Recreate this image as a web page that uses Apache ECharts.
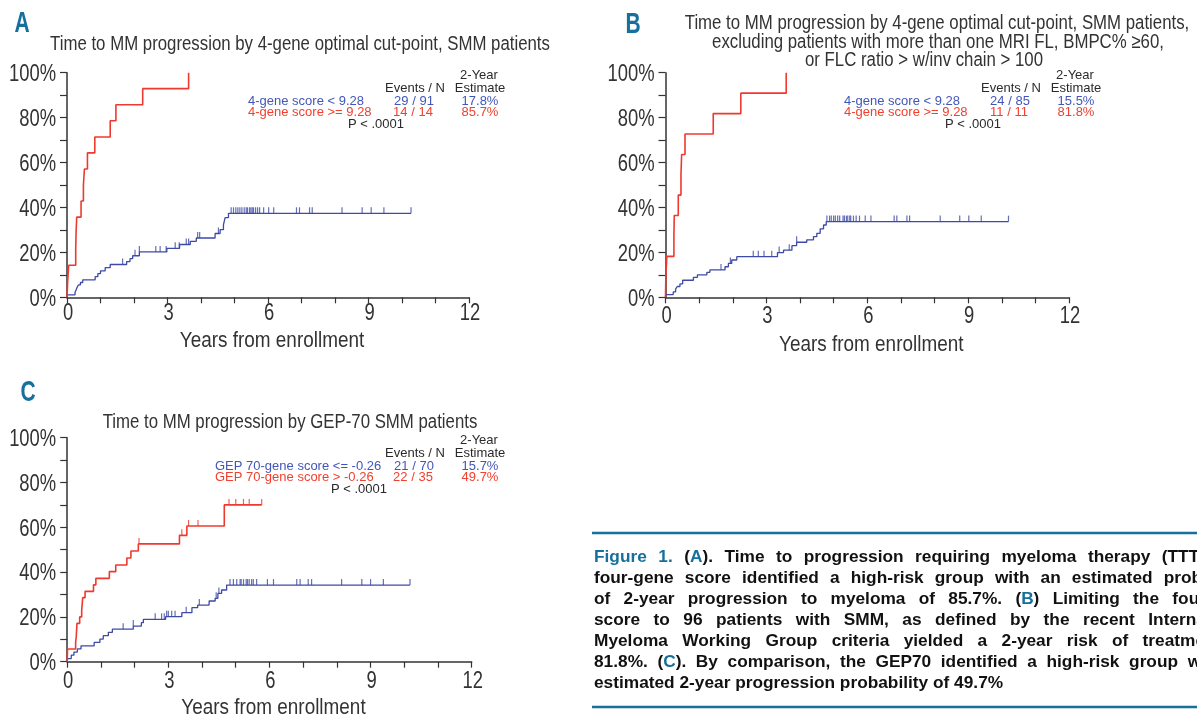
<!DOCTYPE html>
<html><head><meta charset="utf-8">
<script src="https://cdn.jsdelivr.net/npm/echarts@6/dist/echarts.min.js"></script>
<style>html,body{margin:0;padding:0;background:#fff}#c{width:1197px;height:717px}</style>
</head><body><div id="c"></div>
<script>
// ---------- DATA ----------
const xTickLabels = [0, 3, 6, 9, 12];
const yTickLabels = [0, 20, 40, 60, 80, 100];

// Panel A: 4-gene score
const aBlueT = [0, 0.01, 0.24, 0.27, 0.30, 0.34, 0.40, 0.47, 0.84, 0.92, 1.00, 1.14, 1.29, 1.78, 1.88, 1.96, 2.16, 2.98, 3.36, 3.68, 3.86, 4.42, 4.57, 4.67, 4.72, 4.82, 10.27];
const aBlueP = [0, 1.1, 2.2, 3.3, 4.4, 5.5, 6.6, 7.8, 9.2, 10.5, 11.8, 13.2, 14.6, 15.9, 17.2, 18.5, 20.2, 21.8, 23.5, 24.9, 26.4, 28.4, 30.1, 32.2, 35.5, 37.4, 37.4];
const aBlueCens = [1.66, 2.03, 2.16, 2.65, 2.78, 2.96, 3.23, 3.35, 3.56, 3.63, 3.90, 3.96, 4.52, 4.90, 4.97, 5.04, 5.10, 5.16, 5.22, 5.29, 5.35, 5.39, 5.45, 5.49, 5.53, 5.57, 5.63, 5.69, 5.75, 5.87, 6.02, 6.17, 6.85, 6.94, 7.24, 7.32, 8.21, 8.81, 9.08, 9.46, 10.27];
const aRedT = [0, 0.02, 0.05, 0.26, 0.27, 0.29, 0.42, 0.49, 0.52, 0.61, 0.83, 1.29, 1.46, 2.26, 3.63];
const aRedP = [0, 7.1, 14.3, 21.4, 28.6, 35.7, 42.9, 50.0, 57.1, 64.3, 71.4, 78.6, 85.7, 92.9, 100];

// Panel B: 4-gene score, restricted SMM
const bBlueT = [0, 0.01, 0.23, 0.30, 0.35, 0.43, 0.51, 0.83, 0.95, 1.23, 1.32, 1.77, 1.87, 1.97, 2.12, 3.33, 3.51, 3.76, 3.90, 4.20, 4.40, 4.50, 4.60, 4.70, 4.78, 10.20];
const bBlueP = [0, 1.2, 2.4, 3.6, 4.8, 6.0, 7.6, 8.9, 10.0, 11.1, 12.2, 13.6, 15.1, 16.6, 18.1, 19.9, 21.0, 23.0, 24.5, 25.6, 27.0, 28.5, 30.5, 32.2, 33.7, 33.7];
const bBlueCens = [1.65, 1.93, 2.61, 2.76, 2.93, 3.16, 3.38, 3.68, 3.90, 4.80, 4.88, 4.93, 5.00, 5.05, 5.12, 5.18, 5.28, 5.32, 5.38, 5.42, 5.48, 5.51, 5.59, 5.67, 5.77, 5.94, 6.11, 6.80, 6.88, 7.18, 7.26, 8.17, 8.75, 9.02, 9.39, 10.20];
const bRedT = [0, 0.01, 0.04, 0.25, 0.26, 0.38, 0.46, 0.48, 0.58, 1.42, 2.24, 3.59];
const bRedP = [0, 9.1, 18.2, 27.3, 36.4, 45.5, 54.5, 63.6, 72.7, 81.8, 90.9, 100];

// Panel C: GEP-70
const cBlueT = [0, 0.01, 0.12, 0.20, 0.30, 0.41, 0.80, 0.97, 1.07, 1.22, 1.34, 1.96, 2.20, 2.26, 2.92, 3.40, 3.70, 3.87, 4.21, 4.39, 4.47, 4.58, 4.73, 10.17];
const cBlueP = [0, 1.4, 2.9, 4.3, 5.7, 7.1, 8.6, 10.1, 11.6, 13.1, 14.5, 15.9, 17.4, 18.9, 20.1, 21.9, 24.1, 25.3, 27.1, 28.3, 30.5, 32.0, 34.2, 34.2];
const cBlueCens = [1.66, 1.96, 2.61, 2.80, 2.88, 2.95, 3.00, 3.10, 3.20, 3.53, 3.92, 4.42, 4.50, 4.83, 4.93, 5.03, 5.13, 5.16, 5.23, 5.31, 5.35, 5.40, 5.47, 5.52, 5.62, 5.94, 6.12, 6.81, 6.91, 7.15, 7.25, 8.14, 8.74, 9.00, 9.38, 10.17];
const cRedT = [0, 0.01, 0.25, 0.27, 0.29, 0.37, 0.43, 0.46, 0.53, 0.78, 0.85, 1.25, 1.44, 1.77, 1.89, 2.11, 3.33, 3.55, 4.66, 5.77];
const cRedP = [0, 5.7, 8.6, 11.4, 17.1, 20.0, 22.9, 28.6, 31.4, 34.3, 37.2, 40.2, 43.2, 46.3, 49.4, 52.6, 56.4, 60.6, 70.0, 70.0];
const cRedCens = [2.13, 3.40, 3.60, 3.88, 4.80, 5.00, 5.23, 5.40, 5.77];

const capLines = [
  '{t|Figure} {t|1.} ({t|A}). Time to progression requiring myeloma therapy (TTT). The',
  'four-gene score identified a high-risk group with an estimated probability',
  'of 2-year progression to myeloma of 85.7%. ({t|B}) Limiting the four-gene',
  'score to 96 patients with SMM, as defined by the recent International',
  'Myeloma Working Group criteria yielded a 2-year risk of treatment of',
  '81.8%. ({t|C}). By comparison, the GEP70 identified a high-risk group with an',
  'estimated 2-year progression probability of 49.7%'
];

// ---------- STYLE ----------
const SANS = '"Liberation Sans",Arial,sans-serif';
const BLUE = '#3d4aa6', RED = '#ee3a2e', TEAL = '#16709c', INK = '#2a2a2a', AX = '#333';
const LBLUE = '#4356b8', LRED = '#f0402f';

function km(T, P) { return T.map((t, i) => [t, P[i]]); }
function cens(T, P, C) {
  return C.map(c => { let v = 0; for (let i = 0; i < T.length; i++) if (T[i] <= c) v = P[i]; return [c, v]; });
}

const grids = [
  { left: 67, top: 72.7, width: 402, height: 224.6 },
  { left: 665.5, top: 72.7, width: 403.5, height: 224.6 },
  { left: 67.2, top: 437.7, width: 404.5, height: 224 }
];
function xAx(gi) {
  return { type: 'value', gridIndex: gi, min: 0, max: 12, interval: 1,
    axisLine: { onZero: false, lineStyle: { color: AX, width: 1.5 } },
    axisTick: { length: 6, lineStyle: { color: AX, width: 1.2 } },
    splitLine: { show: false }, axisLabel: { show: false } };
}
function yAx(gi) {
  return { type: 'value', gridIndex: gi, min: 0, max: 100, interval: 10,
    axisLine: { show: true, lineStyle: { color: AX, width: 1.5 } },
    axisTick: { show: true, length: 7, lineStyle: { color: AX, width: 1.2 } },
    splitLine: { show: false }, axisLabel: { show: false } };
}
function line(gi, T, P, color, w) {
  return { type: 'line', xAxisIndex: gi, yAxisIndex: gi, step: 'end', data: km(T, P), showSymbol: false,
    lineStyle: { color, width: w }, itemStyle: { color }, animation: false };
}
function tick(gi, T, P, C, color) {
  return { type: 'scatter', xAxisIndex: gi, yAxisIndex: gi, data: cens(T, P, C), symbol: 'rect',
    symbolSize: [1.2, 6], symbolOffset: [0, -3], itemStyle: { color }, animation: false };
}

const chart = echarts.init(document.getElementById('c'), null, { renderer: 'canvas' });
chart.setOption({
  animation: false,
  backgroundColor: '#fff',
  grid: grids,
  xAxis: [xAx(0), xAx(1), xAx(2)],
  yAxis: [yAx(0), yAx(1), yAx(2)],
  series: [
    line(0, aBlueT, aBlueP, BLUE, 1.3), line(0, aRedT, aRedP, RED, 1.6), tick(0, aBlueT, aBlueP, aBlueCens, BLUE),
    line(1, bBlueT, bBlueP, BLUE, 1.3), line(1, bRedT, bRedP, RED, 1.6), tick(1, bBlueT, bBlueP, bBlueCens, BLUE),
    line(2, cBlueT, cBlueP, BLUE, 1.3), line(2, cRedT, cRedP, RED, 1.6), tick(2, cBlueT, cBlueP, cBlueCens, BLUE), tick(2, cRedT, cRedP, cRedCens, RED)
  ]
});

// ---------- TEXT ----------
function txt(x, y, s, opt, sx) {
  const el = { type: 'text', x, y, style: Object.assign({ text: s, fill: INK, font: '13px ' + SANS, textAlign: 'center', textVerticalAlign: 'middle' }, opt || {}) };
  if (sx) el.scaleX = sx;
  return el;
}
function legend(dx, dy, lblX, blueLbl, redLbl, bN, rN, bE, rE, pX) {
  return [
    txt(479 + dx, 75 + dy, '2-Year'),
    txt(415 + dx, 88 + dy, 'Events / N'),
    txt(480 + dx, 88 + dy, 'Estimate'),
    txt(lblX, 101 + dy, blueLbl, { fill: LBLUE, textAlign: 'left' }),
    txt(lblX, 112.5 + dy, redLbl, { fill: LRED, textAlign: 'left' }),
    txt(414 + dx, 101 + dy, bN, { fill: LBLUE }),
    txt(413 + dx, 112.5 + dy, rN, { fill: LRED }),
    txt(480 + dx, 101 + dy, bE, { fill: LBLUE }),
    txt(480 + dx, 112.5 + dy, rE, { fill: LRED }),
    txt(pX, 124 + dy, 'P < .0001')
  ];
}

const TF = { font: '20px ' + SANS, fill: '#333' };
const LETTER = { fill: TEAL, font: 'bold 30px ' + SANS };
const G = [
  txt(22, 24, 'A', LETTER, 0.7),
  txt(633, 25, 'B', LETTER, 0.7),
  txt(28, 393, 'C', LETTER, 0.7),
  txt(300, 44, 'Time to MM progression by 4-gene optimal cut-point, SMM patients', TF, 0.84),
  txt(937, 23, 'Time to MM progression by 4-gene optimal cut-point, SMM patients,', TF, 0.84),
  txt(938, 42, 'excluding patients with more than one MRI FL, BMPC% \u226560,', TF, 0.84),
  txt(924, 60, 'or FLC ratio > w/inv chain > 100', TF, 0.84),
  txt(290, 422, 'Time to MM progression by GEP-70 SMM patients', TF, 0.84),
  ...legend(0, 0, 248, '4-gene score < 9.28', '4-gene score >= 9.28', '29 / 91', '14 / 14', '17.8%', '85.7%', 376),
  ...legend(596, 0, 844, '4-gene score < 9.28', '4-gene score >= 9.28', '24 / 85', '11 / 11', '15.5%', '81.8%', 973),
  ...legend(0, 365, 215, 'GEP 70-gene score <= -0.26', 'GEP 70-gene score > -0.26', '21 / 70', '22 / 35', '15.7%', '49.7%', 359),
  { type: 'line', shape: { x1: 592, y1: 533, x2: 1197, y2: 533 }, style: { stroke: TEAL, lineWidth: 2.5 } },
  { type: 'line', shape: { x1: 592, y1: 707, x2: 1197, y2: 707 }, style: { stroke: TEAL, lineWidth: 2.5 } }
];

// axis tick labels and names, placed through the axes' own scales
const xLabOff = [16, 19.5, 20], nameOff = [44, 48, 46];
const LF = { font: '23px ' + SANS, fill: '#333' };
[0, 1, 2].forEach(gi => {
  yTickLabels.forEach(v => {
    const p = chart.convertToPixel({ gridIndex: gi }, [0, v]);
    G.push(txt(p[0] - 11, p[1] + 2, v + '%', Object.assign({ textAlign: 'right' }, LF), 0.8));
  });
  xTickLabels.forEach(v => {
    const p = chart.convertToPixel({ gridIndex: gi }, [v, 0]);
    G.push(txt(p[0] + 1, p[1] + xLabOff[gi], String(v), LF, 0.8));
  });
  const pm = chart.convertToPixel({ gridIndex: gi }, [6, 0]);
  G.push(txt(pm[0] + 4, pm[1] + nameOff[gi], 'Years from enrollment', { font: '21.5px ' + SANS, fill: '#333' }, 0.88));
});

// justified caption
const CAP_PX = 17.3;
const capFont = 'bold ' + CAP_PX + 'px ' + SANS;
const capRich = { t: { fill: TEAL, font: capFont } };
const ctx = document.createElement('canvas').getContext('2d');
ctx.font = 'bold ' + CAP_PX + 'px "Liberation Sans", Arial, sans-serif';
const plain = s => s.replace(/\{t\|([^}]*)\}/g, '$1');
const CAP_L = 594, CAP_R = 1252;
capLines.forEach((ln, i) => {
  const words = ln.split(' ');
  const widths = words.map(w => ctx.measureText(plain(w)).width);
  const total = widths.reduce((a, b) => a + b, 0);
  const gap = i < capLines.length - 1 ? (CAP_R - CAP_L - total) / (words.length - 1) : ctx.measureText(' ').width;
  let x = CAP_L;
  words.forEach((w, j) => {
    G.push({ type: 'text', x, y: 557 + i * 21, style: { text: w, rich: capRich, font: capFont, fill: '#111', textAlign: 'left', textVerticalAlign: 'middle' } });
    x += widths[j] + gap;
  });
});

chart.setOption({ graphic: G });
</script></body></html>
